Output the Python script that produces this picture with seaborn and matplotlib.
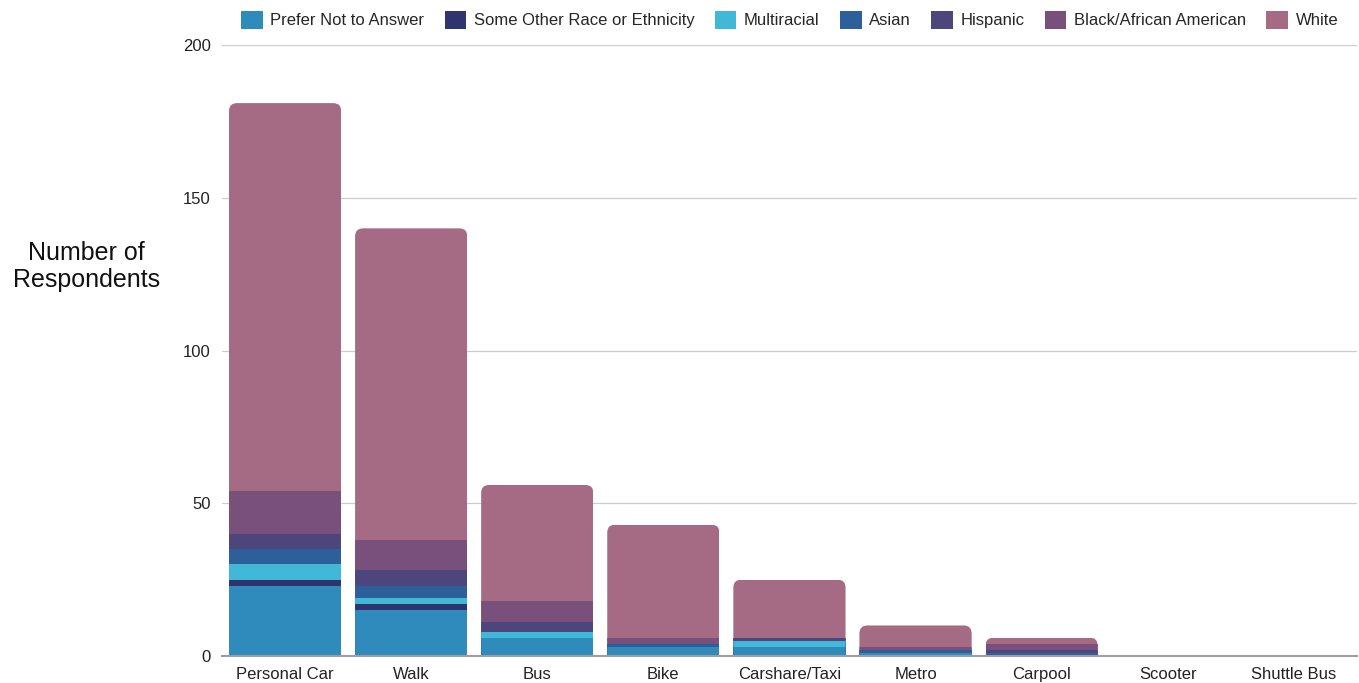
import numpy as np
import pandas as pd
import matplotlib
matplotlib.use("Agg")
import matplotlib.pyplot as plt
from matplotlib.patches import FancyBboxPatch, Patch
import seaborn as sns

categories = ["Personal Car", "Walk", "Bus", "Bike", "Carshare/Taxi",
              "Metro", "Carpool", "Scooter", "Shuttle Bus"]

prefer_not = [23, 15, 6, 3, 3, 1, 0, 0, 0]
some_other = [2, 2, 0, 0, 0, 0, 0, 0, 0]
multiracial = [5, 2, 2, 0, 2, 0, 0, 0, 0]
asian = [5, 4, 0, 1, 0, 1, 1, 0, 0]
hispanic = [5, 5, 3, 0, 1, 0, 1, 0, 0]
black = [14, 10, 7, 2, 0, 1, 2, 0, 0]
white = [127, 102, 38, 37, 19, 7, 2, 0, 0]

series_names = ["Prefer Not to Answer", "Some Other Race or Ethnicity",
                "Multiracial", "Asian", "Hispanic",
                "Black/African American", "White"]
series_values = [prefer_not, some_other, multiracial, asian, hispanic,
                 black, white]
colors = ["#2E8BBB", "#30346E", "#42B8D8", "#2D5F9A", "#4D467D",
          "#79507C", "#A56A84"]

sns.set_theme(style="white")
plt.rcParams["font.family"] = ["Liberation Sans", "DejaVu Sans"]

fig = plt.figure(figsize=(13.59, 6.83), dpi=100)
ax = fig.add_axes([0.1634, 0.0395, 0.835, 0.8945])

# cumulative heights so each layer sits on those below it
cum = np.cumsum(np.array(series_values, dtype=float), axis=0)
bar_width = 0.89
for i in range(len(series_names) - 1, -1, -1):
    df = pd.DataFrame({"mode": categories, "value": cum[i]})
    sns.barplot(data=df, x="mode", y="value", order=categories,
                color=colors[i], saturation=1, width=bar_width,
                linewidth=0, ax=ax)

ax.set_ylim(0, 200)
ax.set_xlim(-0.5, len(categories) - 0.5)

# rounded tops: clip every bar in a column to one rounded box
fig.canvas.draw()
px_x = ax.transData.transform((1, 0))[0] - ax.transData.transform((0, 0))[0]
px_y = ax.transData.transform((0, 1))[1] - ax.transData.transform((0, 0))[1]
r_px = 8.0
r_x = r_px / px_x
aspect = (r_px / px_y) / r_x
totals = cum[-1]
clips = []
for j, tot in enumerate(totals):
    clip = FancyBboxPatch((j - bar_width / 2, -3 * r_x * aspect), bar_width,
                          tot + 3 * r_x * aspect,
                          boxstyle=f"round,pad=0,rounding_size={r_x}",
                          mutation_aspect=aspect,
                          transform=ax.transData)
    clips.append(clip)
for p in ax.patches:
    cx = p.get_x() + p.get_width() / 2
    j = int(round(cx))
    if 0 <= j < len(clips):
        p.set_clip_path(clips[j])

ax.set_yticks([0, 50, 100, 150, 200])
ax.yaxis.grid(True, color="#cccccc", linewidth=0.9)
ax.set_axisbelow(True)
for s in ["top", "right", "left"]:
    ax.spines[s].set_visible(False)
ax.spines["bottom"].set_color("#9e9e9e")
ax.spines["bottom"].set_linewidth(1.5)
ax.spines["bottom"].set_zorder(5)
ax.tick_params(axis="y", length=0, pad=8, labelsize=12, colors="#222222")
ax.tick_params(axis="x", length=0, pad=8, labelsize=12, colors="#222222")
ax.set_xlabel("")
ax.set_ylabel("Number of\nRespondents", rotation=0, fontsize=18,
              color="#111111", labelpad=0, ha="center", va="center",
              linespacing=1.15)
ax.yaxis.set_label_coords(-0.1195, 0.637)

handles = [Patch(facecolor=c, edgecolor="none", label=n)
           for n, c in zip(series_names, colors)]
fig.legend(handles=handles, loc="center", bbox_to_anchor=(0.581, 0.971),
           ncol=7, frameon=False, fontsize=12, handlelength=1.3,
           handleheight=1.3, handletextpad=0.45, columnspacing=1.22)

fig.savefig("out.png", dpi=100)
